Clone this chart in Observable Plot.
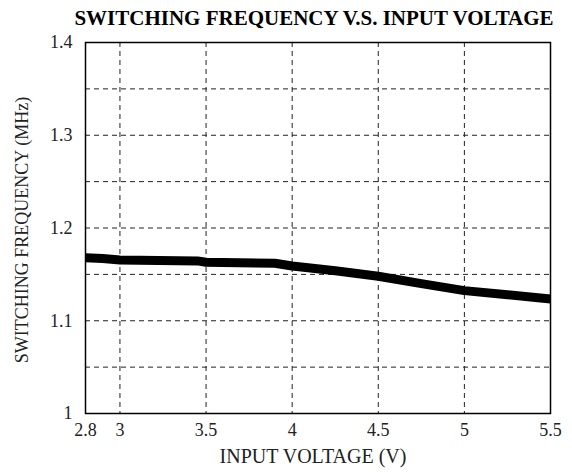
<!DOCTYPE html>
<html>
<head>
<meta charset="utf-8">
<script src="https://cdn.jsdelivr.net/npm/d3@7"></script>
<script src="https://cdn.jsdelivr.net/npm/@observablehq/plot@0.6"></script>
<style>
  html, body { margin: 0; padding: 0; background: #fff; }
  #chart svg { display: block; }
</style>
</head>
<body>
<div id="chart"></div>
<script>
const titleText = "SWITCHING FREQUENCY V.S. INPUT VOLTAGE";
const xLabel = "INPUT VOLTAGE (V)";
const yLabel = "SWITCHING FREQUENCY (MHz)";

const voltage = [2.8, 2.9, 3.0, 3.45, 3.5, 3.9, 4.0, 4.25, 4.5, 4.75, 5.0, 5.25, 5.5];
const frequency = [1.168, 1.167, 1.1655, 1.1645, 1.163, 1.162, 1.159, 1.154, 1.148, 1.140, 1.1325, 1.128, 1.1235];

const xTicks = [2.8, 3, 3.5, 4, 4.5, 5, 5.5];
const xGrid = [3, 3.5, 4, 4.5, 5];
const yTicks = [1, 1.1, 1.2, 1.3, 1.4];
const yGrid = [1.05, 1.1, 1.15, 1.2, 1.25, 1.3, 1.35];

const data = voltage.map((v, i) => ({v, f: frequency[i]}));

const W = 572, H = 472;
const mL = 85, mR = 22, mT = 42, mB = 59;
const serif = "'Liberation Serif', 'DejaVu Serif', serif";

const chart = Plot.plot({
  width: W,
  height: H,
  marginLeft: mL,
  marginRight: mR,
  marginTop: mT,
  marginBottom: mB,
  style: {fontFamily: serif, fontSize: "18px", color: "#222", background: "#fff"},
  x: {domain: [2.8, 5.5]},
  y: {domain: [1, 1.4]},
  marks: [
    Plot.gridX(xGrid, {stroke: "#222", strokeOpacity: 1, strokeDasharray: "5,4", strokeWidth: 1}),
    Plot.gridY(yGrid, {stroke: "#222", strokeOpacity: 1, strokeDasharray: "5,4", strokeWidth: 1}),
    Plot.axisX(xTicks, {tickSize: 0, tickPadding: 10, tickFormat: d => String(d), label: null, fontSize: 18}),
    Plot.axisY(yTicks, {tickSize: 0, tickPadding: 13, tickFormat: d => String(d), label: null, fontSize: 18}),
    Plot.line(data, {x: "v", y: "f", stroke: "#000", strokeWidth: 9, strokeLinecap: "butt"}),
    Plot.frame({stroke: "#000", strokeWidth: 1.5})
  ]
});

const svg = d3.select(chart);
svg.append("text")
  .attr("x", 314).attr("y", 25)
  .attr("text-anchor", "middle")
  .attr("font-family", serif)
  .attr("font-weight", "bold")
  .attr("font-size", 21)
  .attr("fill", "#000")
  .text(titleText);
svg.append("text")
  .attr("x", 313).attr("y", 463)
  .attr("text-anchor", "middle")
  .attr("font-family", serif)
  .attr("font-size", 20)
  .attr("fill", "#222")
  .text(xLabel);
svg.append("text")
  .attr("transform", "translate(28, 230) rotate(-90)")
  .attr("text-anchor", "middle")
  .attr("font-family", serif)
  .attr("font-size", 18)
  .attr("fill", "#222")
  .text(yLabel);

document.getElementById("chart").appendChild(chart);
</script>
</body>
</html>
